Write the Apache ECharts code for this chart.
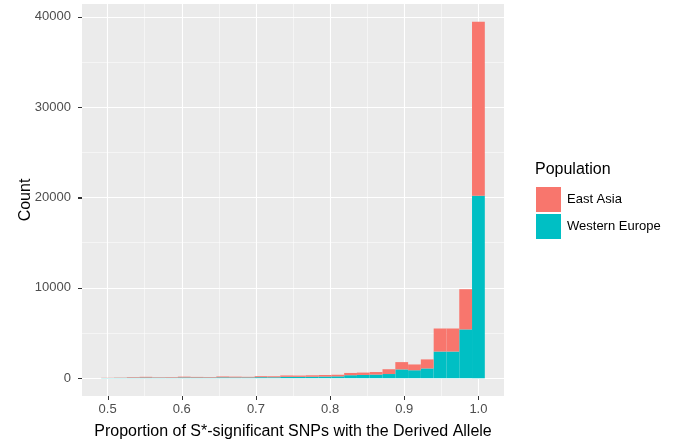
<!DOCTYPE html>
<html>
<head>
<meta charset="utf-8">
<script src="https://cdn.jsdelivr.net/npm/echarts@6/dist/echarts.min.js"></script>
<style>
  html, body { margin: 0; padding: 0; background: #fff; }
  #main { width: 677px; height: 439px; }
</style>
</head>
<body>
<div id="main"></div>
<script>
// histogram bins (30 bins, centre of each bin)
const binWidth = 0.017241;
const binCenters = [0.5000, 0.5172, 0.5345, 0.5517, 0.5690, 0.5862, 0.6034, 0.6207, 0.6379, 0.6552,
  0.6724, 0.6897, 0.7069, 0.7241, 0.7414, 0.7586, 0.7759, 0.7931, 0.8103, 0.8276,
  0.8448, 0.8621, 0.8793, 0.8966, 0.9138, 0.9310, 0.9483, 0.9655, 0.9828, 1.0000];

const westernEurope = [20, 30, 50, 70, 50, 50, 80, 70, 60, 90,
  80, 80, 110, 100, 150, 150, 160, 180, 200, 330,
  360, 400, 460, 970, 880, 1080, 2950, 2950, 5400, 20200];
const eastAsia = [20, 30, 60, 80, 50, 60, 90, 70, 60, 100,
  90, 70, 110, 110, 150, 140, 160, 170, 180, 250,
  260, 280, 530, 810, 640, 1000, 2550, 2550, 4450, 19250];

const xTicks = [0.5, 0.6, 0.7, 0.8, 0.9, 1.0];
const xMinor = [0.55, 0.65, 0.75, 0.85, 0.95];
const yTicks = [0, 10000, 20000, 30000, 40000];
const yMinor = [5000, 15000, 25000, 35000];

const xMin = 0.4655, xMax = 1.0345;
const yMin = -1972, yMax = 41422;

const colors = { 'East Asia': '#F8766D', 'Western Europe': '#00BFC4' };

// stacked rows: [x, bottom, top]
const weRows = binCenters.map((x, i) => [x, 0, westernEurope[i]]);
const eaRows = binCenters.map((x, i) => [x, westernEurope[i], westernEurope[i] + eastAsia[i]]);

function renderBin(params, api) {
  const x = api.value(0);
  const p0 = api.coord([x - binWidth / 2, api.value(2)]);
  const p1 = api.coord([x + binWidth / 2, api.value(1)]);
  return {
    type: 'rect',
    shape: { x: p0[0], y: p0[1], width: p1[0] - p0[0], height: p1[1] - p0[1] },
    style: { fill: api.visual('color') }
  };
}

const gridLines = [
  ...xTicks.map(v => ({ xAxis: v, lineStyle: { width: 1.1 } })),
  ...xMinor.map(v => ({ xAxis: v, lineStyle: { width: 0.5 } })),
  ...yTicks.map(v => ({ yAxis: v, lineStyle: { width: 1.1 } })),
  ...yMinor.map(v => ({ yAxis: v, lineStyle: { width: 0.5 } }))
];

const font = '"Liberation Sans", Arial, sans-serif';
const chart = echarts.init(document.getElementById('main'), null, { renderer: 'canvas' });

chart.setOption({
  animation: false,
  backgroundColor: '#ffffff',
  title: {
    text: 'Population',
    left: 530, top: 157,
    textStyle: { fontFamily: font, fontSize: 16, fontWeight: 'normal', color: '#000' }
  },
  legend: {
    orient: 'vertical',
    left: 531, top: 182,
    icon: 'rect',
    itemWidth: 25, itemHeight: 25, itemGap: 2,
    data: ['East Asia', 'Western Europe'],
    textStyle: { fontFamily: font, fontSize: 13, color: '#000', padding: [0, 0, 0, 1] }
  },
  grid: {
    left: 82, right: 173, top: 4, bottom: 43,
    outerBoundsMode: 'none', containLabel: false,
    backgroundColor: '#EBEBEB', show: true, borderWidth: 0
  },
  xAxis: {
    type: 'value',
    min: xMin, max: xMax,
    name: 'Proportion of S*-significant SNPs with the Derived Allele',
    nameLocation: 'middle', nameGap: 28, nameMoveOverlap: false,
    nameTextStyle: { fontFamily: font, fontSize: 16, color: '#000' },
    axisLine: { show: false },
    splitLine: { show: false },
    axisTick: { show: true, length: 4, lineStyle: { color: '#333', width: 1 }, customValues: xTicks },
    axisLabel: {
      customValues: xTicks, margin: 5, padding: [2, 0, 0, 0],
      fontFamily: font, fontSize: 13, color: '#4d4d4d',
      formatter: v => v.toFixed(1)
    }
  },
  yAxis: {
    type: 'value',
    min: yMin, max: yMax,
    name: 'Count',
    nameLocation: 'middle', nameGap: 48, nameMoveOverlap: false,
    nameTextStyle: { fontFamily: font, fontSize: 16, color: '#000' },
    axisLine: { show: false },
    splitLine: { show: false },
    axisTick: { show: true, length: 4, lineStyle: { color: '#333', width: 1 }, customValues: yTicks },
    axisLabel: {
      customValues: yTicks, margin: 5, padding: [0, 6, 0, 0],
      fontFamily: font, fontSize: 13, color: '#4d4d4d',
      formatter: v => String(v)
    }
  },
  series: [
    {
      name: 'grid', type: 'line', data: [], z: 1, silent: true,
      markLine: {
        silent: true, symbol: ['none', 'none'], label: { show: false },
        lineStyle: { color: '#ffffff', type: 'solid' },
        data: gridLines
      }
    },
    {
      name: 'Western Europe', type: 'custom', renderItem: renderBin,
      itemStyle: { color: colors['Western Europe'] },
      encode: { x: 0, y: [1, 2] }, data: weRows, z: 10
    },
    {
      name: 'East Asia', type: 'custom', renderItem: renderBin,
      itemStyle: { color: colors['East Asia'] },
      encode: { x: 0, y: [1, 2] }, data: eaRows, z: 10
    }
  ]
});

// axis ticks, placed through the chart's own scales
const tickLen = 4;
const rect = chart.getModel().getComponent('grid', 0).coordinateSystem.getRect();
const tickEls = [];
xTicks.forEach(v => {
  const px = chart.convertToPixel({ xAxisIndex: 0 }, v);
  const x = Math.round(px) + 0.5;
  const y0 = rect.y + rect.height;
  tickEls.push({
    type: 'line', silent: true, z: 100,
    shape: { x1: x, y1: y0, x2: x, y2: y0 + tickLen },
    style: { stroke: '#333333', lineWidth: 1 }
  });
});
yTicks.forEach(v => {
  const py = chart.convertToPixel({ yAxisIndex: 0 }, v);
  const y = Math.round(py) + 0.5;
  const x0 = rect.x;
  tickEls.push({
    type: 'line', silent: true, z: 100,
    shape: { x1: x0 - tickLen, y1: y, x2: x0, y2: y },
    style: { stroke: '#333333', lineWidth: 1 }
  });
});
chart.setOption({ graphic: { elements: tickEls } });
</script>
</body>
</html>
